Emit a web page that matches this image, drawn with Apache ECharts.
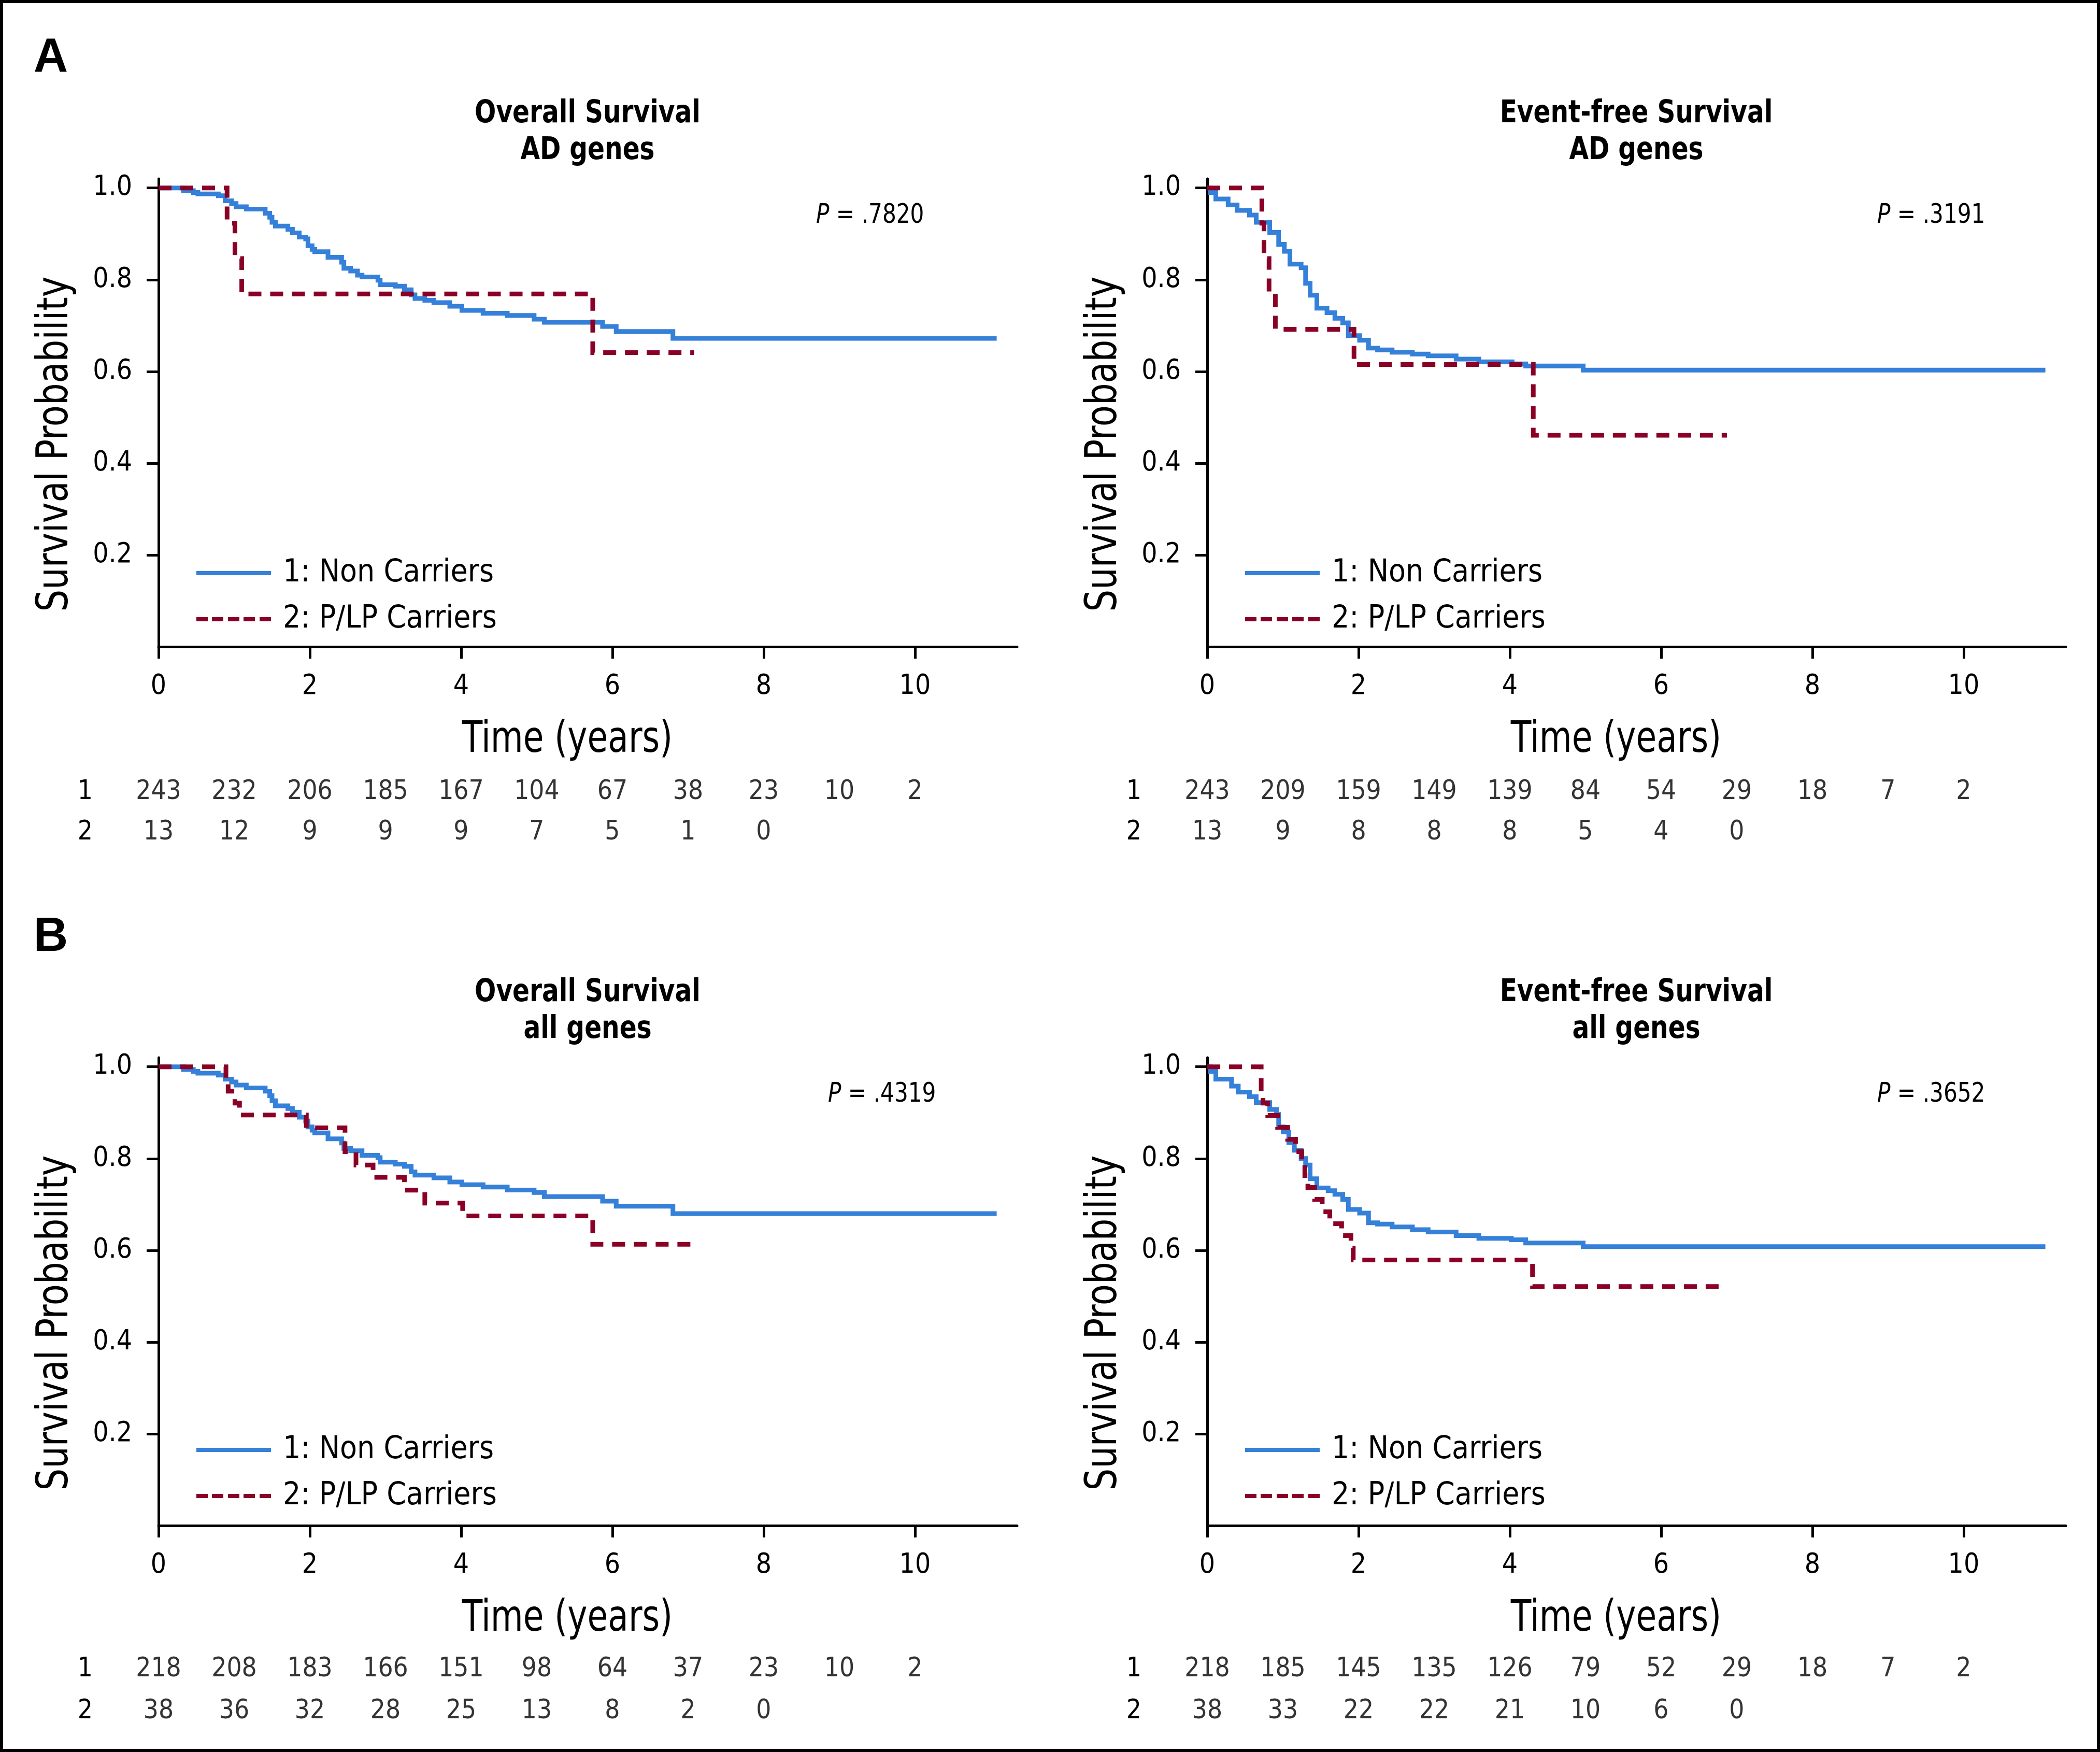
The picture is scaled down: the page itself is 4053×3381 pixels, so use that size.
<!DOCTYPE html>
<html><head><meta charset="utf-8">
<script src="https://cdn.jsdelivr.net/npm/echarts@6/dist/echarts.min.js"></script>
<style>html,body{margin:0;padding:0;background:#fff}#c{width:4053px;height:3381px}</style>
</head><body><div id="c"></div>
<script>
// ---------------- DATA ----------------
const years = [0, 1, 2, 3, 4, 5, 6, 7, 8, 9, 10];
const xTicks = [0, 2, 4, 6, 8, 10];
const yTicks = [0.2, 0.4, 0.6, 0.8, 1.0];
const groupNames = ['1: Non Carriers', '2: P/LP Carriers'];
const rowLabels = ['1', '2'];

const titleOsAd = ['Overall Survival', 'AD genes'];
const titleEfsAd = ['Event-free Survival', 'AD genes'];
const titleOsAll = ['Overall Survival', 'all genes'];
const titleEfsAll = ['Event-free Survival', 'all genes'];
const pOsAd = '.7820', pEfsAd = '.3191', pOsAll = '.4319', pEfsAll = '.3652';

const osAdNon = [[0,1],[0.33,0.994],[0.46,0.99],[0.52,0.987],[0.79,0.983],[0.88,0.972],[0.965,0.966],[1.025,0.959],[1.16,0.954],[1.41,0.945],[1.47,0.936],[1.5,0.925],[1.545,0.917],[1.71,0.91],[1.77,0.902],[1.86,0.893],[1.945,0.889],[1.975,0.874],[2.03,0.866],[2.065,0.861],[2.24,0.849],[2.42,0.838],[2.45,0.825],[2.54,0.819],[2.63,0.81],[2.69,0.806],[2.9,0.799],[2.93,0.789],[3.13,0.786],[3.25,0.778],[3.34,0.767],[3.39,0.759],[3.52,0.755],[3.64,0.75],[3.85,0.742],[4.01,0.733],[4.29,0.727],[4.61,0.722],[4.965,0.714],[5.1,0.707],[5.87,0.698],[6.05,0.687],[6.8,0.672],[11.08,0.672]];
const osAdCar = [[0,1],[0.906,0.923],[1.01,0.846],[1.1,0.769],[5.74,0.641],[7.08,0.641]];

const efsAdNon = [[0,1],[0.04,0.99],[0.113,0.976],[0.276,0.963],[0.395,0.951],[0.558,0.941],[0.647,0.925],[0.826,0.903],[0.944,0.877],[1.019,0.862],[1.093,0.834],[1.241,0.826],[1.3,0.792],[1.36,0.766],[1.449,0.738],[1.583,0.728],[1.687,0.716],[1.791,0.706],[1.865,0.678],[2.014,0.668],[2.132,0.651],[2.251,0.647],[2.444,0.642],[2.712,0.638],[2.92,0.634],[3.29,0.627],[3.59,0.621],[4.03,0.6165],[4.21,0.612],[4.97,0.603],[11.08,0.603]];
const efsAdCar = [[0,1],[0.722,0.923],[0.75,0.846],[0.817,0.769],[0.9,0.692],[1.94,0.615],[4.31,0.461],[6.87,0.461]];

const osAllNon = [[0,1],[0.33,0.994],[0.46,0.99],[0.52,0.986],[0.79,0.982],[0.88,0.973],[0.965,0.967],[1.025,0.96],[1.16,0.954],[1.41,0.947],[1.47,0.937],[1.5,0.926],[1.545,0.915],[1.71,0.909],[1.77,0.901],[1.86,0.89],[1.945,0.882],[1.975,0.869],[2.03,0.862],[2.065,0.856],[2.24,0.843],[2.42,0.834],[2.45,0.822],[2.54,0.817],[2.69,0.807],[2.9,0.802],[2.93,0.792],[3.13,0.788],[3.25,0.783],[3.34,0.771],[3.39,0.764],[3.64,0.758],[3.85,0.749],[4.01,0.743],[4.29,0.738],[4.61,0.7315],[4.965,0.726],[5.1,0.717],[5.87,0.707],[6.05,0.696],[6.8,0.68],[11.08,0.68]];
const osAllCar = [[0,1],[0.891,0.974],[0.92,0.947],[1.01,0.921],[1.07,0.895],[1.954,0.867],[2.465,0.815],[2.61,0.786],[2.836,0.759],[3.25,0.731],[3.52,0.703],[4.02,0.675],[5.74,0.613],[7.08,0.613]];

const efsAllNon = [[0,1],[0.04,0.99],[0.113,0.973],[0.321,0.958],[0.41,0.945],[0.558,0.935],[0.647,0.922],[0.826,0.907],[0.915,0.896],[0.944,0.869],[1.004,0.858],[1.078,0.835],[1.152,0.818],[1.241,0.8],[1.3,0.786],[1.36,0.756],[1.449,0.736],[1.598,0.73],[1.687,0.722],[1.791,0.711],[1.865,0.689],[2.014,0.681],[2.132,0.66],[2.251,0.657],[2.444,0.651],[2.712,0.645],[2.92,0.64],[3.29,0.632],[3.59,0.626],[4.02,0.623],[4.21,0.616],[4.97,0.608],[11.08,0.608]];
const efsAllCar = [[0,1],[0.713,0.947],[0.737,0.921],[0.8,0.894],[0.93,0.868],[1.063,0.842],[1.167,0.815],[1.25,0.789],[1.29,0.763],[1.33,0.737],[1.42,0.711],[1.52,0.684],[1.62,0.658],[1.776,0.632],[1.9,0.605],[1.93,0.579],[4.3,0.521],[6.87,0.521]];

const riskOsAd1 = [243,232,206,185,167,104,67,38,23,10,2];
const riskOsAd2 = [13,12,9,9,9,7,5,1,0];
const riskEfsAd1 = [243,209,159,149,139,84,54,29,18,7,2];
const riskEfsAd2 = [13,9,8,8,8,5,4,0];
const riskOsAll1 = [218,208,183,166,151,98,64,37,23,10,2];
const riskOsAll2 = [38,36,32,28,25,13,8,2,0];
const riskEfsAll1 = [218,185,145,135,126,79,52,29,18,7,2];
const riskEfsAll2 = [38,33,22,22,21,10,6,0];

// ---------------- LAYOUT / STYLE ----------------
const FONT = "'Liberation Sans Narrow','DejaVu Sans Condensed','Arial Narrow',sans-serif";
const BLUE = '#3580D8', RED = '#8A0026';
const XMAX = 11.35, YMAX = 1.02;
const PW = 1657, PH = 903;
const DASH_ICON = 'path://M0,0h22v8h-22z M30,0h22v8h-22z M61,0h22v8h-22z M91,0h22v8h-22z M122,0h22v8h-22z';

const panels = [
  {left:306,  top:345,  title:titleOsAd,  p:pOsAd,  non:osAdNon,  car:osAdCar,  r1:riskOsAd1,  r2:riskOsAd2,  riskTop:1490, riskH:156, pDx:1269, legDy:731},
  {left:2330, top:345,  title:titleEfsAd, p:pEfsAd, non:efsAdNon, car:efsAdCar, r1:riskEfsAd1, r2:riskEfsAd2, riskTop:1490, riskH:156, pDx:1293, legDy:731},
  {left:306,  top:2041, title:titleOsAll, p:pOsAll, non:osAllNon, car:osAllCar, r1:riskOsAll1, r2:riskOsAll2, riskTop:3181, riskH:162, pDx:1292, legDy:727},
  {left:2330, top:2041, title:titleEfsAll,p:pEfsAll,non:efsAllNon,car:efsAllCar,r1:riskEfsAll1,r2:riskEfsAll2,riskTop:3181, riskH:162, pDx:1293, legDy:727}
];

const grid = [], xAxis = [], yAxis = [], series = [], legend = [], graphic = [];
const axisLineStyle = {color:'#000', width:5};

graphic.push({type:'rect', shape:{x:3, y:3, width:4047, height:3375}, style:{fill:'none', stroke:'#000', lineWidth:6}, silent:true});
['A', 'B'].forEach(function (t, k) {
  graphic.push({type:'text', x:98, y:[113, 1810][k], silent:true,
    style:{text:t, x:0, y:0, fill:'#000', fontSize:92, fontWeight:'bold', fontFamily:"'Liberation Sans',Arial,sans-serif",
      align:'center', verticalAlign:'middle', textAlign:'center', textVerticalAlign:'middle'}});
});

function txt(x, y, text, size, style, el) {
  return Object.assign({type:'text', x:x, y:y, silent:true,
    style:Object.assign({text:text, x:0, y:0, fill:'#000', fontSize:size, fontFamily:FONT,
      align:'center', verticalAlign:'middle', textAlign:'center', textVerticalAlign:'middle'}, style || {})},
    el || {});
}

panels.forEach(function (p, i) {
  const gi = 2 * i, ri = 2 * i + 1;
  grid.push({left:p.left, top:p.top, width:PW, height:PH, containLabel:false, outerBoundsMode:'none'});
  grid.push({left:p.left, top:p.riskTop, width:PW, height:p.riskH, containLabel:false, outerBoundsMode:'none'});

  xAxis.push({gridIndex:gi, type:'value', min:0, max:XMAX,
    axisLine:{show:true, onZero:false, lineStyle:axisLineStyle},
    axisTick:{show:true, length:23, customValues:xTicks, lineStyle:axisLineStyle},
    axisLabel:{show:true, customValues:xTicks, margin:51, fontSize:53, color:'#000', fontFamily:FONT},
    splitLine:{show:false}});
  yAxis.push({gridIndex:gi, type:'value', min:0, max:YMAX,
    axisLine:{show:true, onZero:false, lineStyle:axisLineStyle},
    axisTick:{show:true, length:23, customValues:yTicks, lineStyle:axisLineStyle},
    axisLabel:{show:true, customValues:yTicks, margin:51, fontSize:53, color:'#000', fontFamily:FONT,
      formatter:function (v) { return Number(v).toFixed(1); }},
    splitLine:{show:false}});

  xAxis.push({gridIndex:ri, type:'value', min:0, max:XMAX, show:false});
  yAxis.push({gridIndex:ri, type:'category', data:rowLabels, inverse:true,
    axisLine:{show:false}, axisTick:{show:false}, splitLine:{show:false},
    axisLabel:{show:true, margin:127, fontSize:51, color:'#000', fontFamily:FONT}});

  series.push({type:'line', name:groupNames[0], xAxisIndex:gi, yAxisIndex:gi, data:p.non, step:'end',
    symbol:'none', silent:true, z:2, itemStyle:{color:BLUE},
    lineStyle:{color:BLUE, width:9, join:'miter', cap:'butt'}});
  series.push({type:'line', name:groupNames[1], xAxisIndex:gi, yAxisIndex:gi, data:p.car, step:'end',
    symbol:'none', silent:true, z:3, itemStyle:{color:RED},
    lineStyle:{color:RED, width:9, type:[25,17], join:'miter', cap:'butt'}});

  const rows = [];
  p.r1.forEach(function (n, k) { rows.push([years[k], 0, n]); });
  p.r2.forEach(function (n, k) { rows.push([years[k], 1, n]); });
  series.push({type:'scatter', name:'risk' + i, xAxisIndex:ri, yAxisIndex:ri, data:rows,
    symbolSize:1, itemStyle:{color:'rgba(0,0,0,0)'}, silent:true,
    label:{show:true, position:'inside', formatter:function (d) { return String(d.value[2]); },
      fontSize:51, color:'#000', fontFamily:FONT}});

  legend.push({show:true, orient:'vertical', left:p.left + 73, top:p.top + p.legDy, padding:0,
    itemWidth:144, itemHeight:8, itemGap:29, selectedMode:false,
    textStyle:{fontSize:60, lineHeight:60, color:'#000', fontFamily:FONT, padding:[0,0,0,18]},
    data:[{name:groupNames[0], icon:'rect'}, {name:groupNames[1], icon:DASH_ICON}]});

  graphic.push(txt(p.left + 828, p.top - 125, p.title[0], 60, {fontWeight:'bold'}, {scaleX:0.9}));
  graphic.push(txt(p.left + 828, p.top - 54, p.title[1], 60, {fontWeight:'bold'}, {scaleX:0.9}));
  graphic.push(txt(p.left + p.pDx, p.top + 72, '{i|P} = ' + p.p, 51,
    {align:'left', textAlign:'left', rich:{i:{fontStyle:'italic', fontSize:51, fontFamily:FONT}}}, {scaleX:0.92}));
  graphic.push(txt(p.left - 198, p.top + 512, 'Survival Probability', 84, null, {rotation:Math.PI / 2, scaleX:0.889}));
  graphic.push(txt(p.left + 789, p.top + 1084, 'Time (years)', 84, null, {scaleX:0.855}));
});

const chart = echarts.init(document.getElementById('c'), null, {renderer:'canvas'});
chart.setOption({
  animation:false,
  backgroundColor:'#fff',
  grid:grid, xAxis:xAxis, yAxis:yAxis, series:series, legend:legend, graphic:graphic
});
</script></body></html>
